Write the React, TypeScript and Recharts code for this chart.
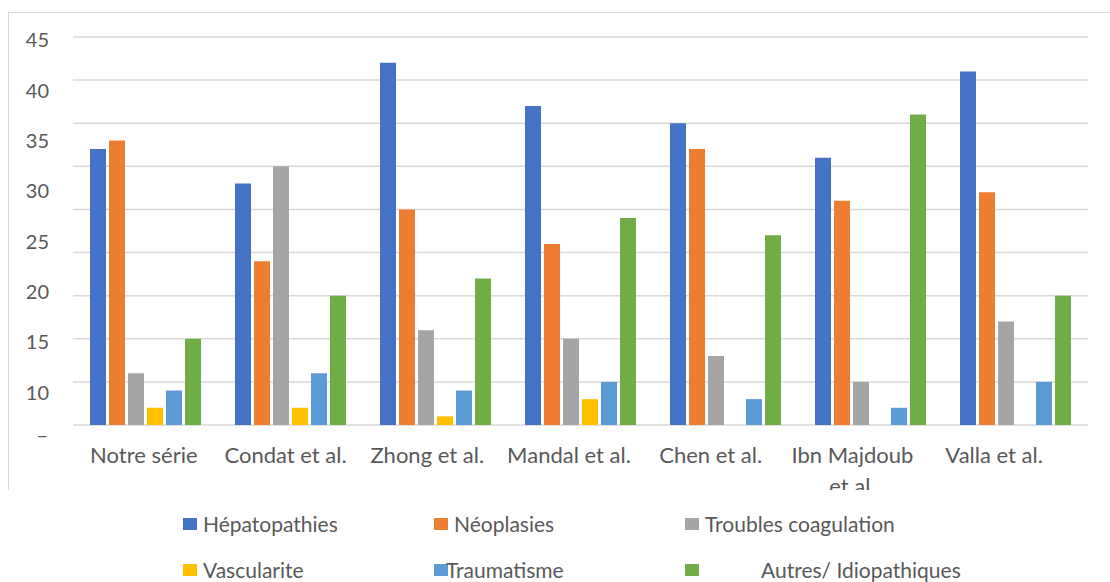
import { BarChart, Bar, XAxis, YAxis, CartesianGrid, Legend } from 'recharts'

const studies = [
  'Notre série',
  'Condat et al.',
  'Zhong et al.',
  'Mandal et al.',
  'Chen et al.',
  'Ibn Majdoub et al.',
  'Valla et al.'
]

const hepatopathies = [32, 28, 42, 37, 35, 31, 41]
const neoplasies = [33, 19, 25, 21, 32, 26, 27]
const troublesCoagulation = [6, 30, 11, 10, 8, 5, 12]
const vascularite = [2, 2, 1, 3, 0, 0, 0]
const traumatisme = [4, 6, 4, 5, 3, 2, 5]
const autres = [10, 15, 17, 24, 22, 36, 15]

// value axis (grid + bars)
const valueTicks = [0, 5, 10, 15, 20, 25, 30, 35, 40, 45]
// printed labels on the left
const labelTicks = [45, 40, 35, 30, 25, 20, 15, 10]

const series = [
  { key: 'hep', name: 'Hépatopathies', color: '#4472C4', values: hepatopathies },
  { key: 'neo', name: 'Néoplasies', color: '#ED7D31', values: neoplasies },
  { key: 'coag', name: 'Troubles coagulation', color: '#A5A5A5', values: troublesCoagulation },
  { key: 'vasc', name: 'Vascularite', color: '#FFC000', values: vascularite },
  { key: 'trau', name: 'Traumatisme', color: '#5B9BD5', values: traumatisme },
  { key: 'autres', name: 'Autres/ Idiopathiques', color: '#70AD47', values: autres }
]

const data = studies.map((name, i) => {
  const row: Record<string, string | number> = { name }
  series.forEach(s => {
    row[s.key] = s.values[i]
  })
  return row
})

const FONT = 'Lato, "Open Sans", sans-serif'
const TEXT_COLOR = '#595959'
const GRID_COLOR = '#D9D9D9'
const TICK_FONT_SIZE = 22

// gap between legend swatch and its text, per slot
const legendTextGap = [6, 6, 6, 6, -2, 62]

let measureCtx: CanvasRenderingContext2D | null = null
function textWidth(s: string) {
  if (!measureCtx) {
    measureCtx = document.createElement('canvas').getContext('2d')
  }
  if (!measureCtx) return s.length * TICK_FONT_SIZE * 0.5
  measureCtx.font = `${TICK_FONT_SIZE}px Lato`
  return measureCtx.measureText(s).width
}

// greedy word wrap for the study names
function wrapLabel(label: string, maxWidth: number) {
  const words = label.split(' ')
  const lines: string[] = []
  let current = ''
  words.forEach(w => {
    const next = current ? `${current} ${w}` : w
    if (current && textWidth(next) > maxWidth) {
      lines.push(current)
      current = w
    } else {
      current = next
    }
  })
  if (current) lines.push(current)
  return lines
}

interface TickProps {
  x?: number
  y?: number
  payload?: { value: string }
}

const StudyTick = ({ x = 0, y = 0, payload }: TickProps) => {
  const lines = wrapLabel(payload?.value ?? '', 138)
  return (
    <text
      x={x}
      y={y}
      textAnchor="middle"
      fill={TEXT_COLOR}
      style={{ fontFamily: FONT, fontSize: TICK_FONT_SIZE }}
    >
      {lines.map((line, i) => (
        <tspan key={i} x={x} dy={i === 0 ? '0.71em' : 31}>
          {line}
        </tspan>
      ))}
    </text>
  )
}

const ChartLegend = () => (
  <div
    style={{
      position: 'relative',
      width: 1110,
      height: 92,
      background: '#fff',
      fontFamily: FONT,
      fontSize: 21,
      color: TEXT_COLOR
    }}
  >
    {series.map((s, i) => (
      <div
        key={s.key}
        style={{
          position: 'absolute',
          left: 183 + (i % 3) * 251,
          top: 21 + Math.floor(i / 3) * 46,
          display: 'flex',
          alignItems: 'center',
          whiteSpace: 'nowrap',
          lineHeight: '26px'
        }}
      >
        <span
          style={{
            display: 'inline-block',
            width: 14,
            height: 12,
            background: s.color,
            marginRight: legendTextGap[i]
          }}
        />
        <span>{s.name}</span>
      </div>
    ))}
  </div>
)

export default function App() {
  return (
    <div
      style={{
        position: 'absolute',
        left: 0,
        top: 0,
        width: 1110,
        height: 582,
        overflow: 'hidden',
        background: '#fff'
      }}
    >
      <div
        style={{
          position: 'absolute',
          left: 8,
          top: 12,
          width: 1200,
          height: 700,
          border: `1.3px solid ${GRID_COLOR}`
        }}
      />
      <div style={{ position: 'absolute', left: 0, top: 0 }}>
        <BarChart
          width={1110}
          height={582}
          data={data}
          margin={{ top: 37, right: 22, left: 0, bottom: 25 }}
          barCategoryGap={17}
          barGap={3}
        >
          <CartesianGrid
            vertical={false}
            stroke={GRID_COLOR}
            strokeWidth={1.5}
            xAxisId="bars"
            yAxisId="main"
          />
          <XAxis xAxisId="bars" dataKey="name" hide height={0} />
          <XAxis
            xAxisId="labels"
            dataKey="name"
            height={40}
            padding={{ left: 0, right: 23 }}
            axisLine={false}
            tickLine={false}
            tickSize={0}
            tickMargin={22}
            interval={0}
            tick={<StudyTick />}
          />
          {/* value axis: only the zero is printed, as a dash */}
          <YAxis
            yAxisId="main"
            domain={[0, 45]}
            ticks={valueTicks}
            width={1}
            axisLine={false}
            tickLine={false}
            tickSize={0}
            tickMargin={25}
            interval={0}
            tickFormatter={(v: number) => (v === 0 ? '–' : '')}
            tick={{ fill: TEXT_COLOR, fontSize: 20, fontFamily: FONT, dy: 10 }}
          />
          <YAxis
            yAxisId="side"
            domain={[6.8, 45.3]}
            allowDataOverflow
            ticks={labelTicks}
            width={72}
            axisLine={false}
            tickLine={false}
            tickSize={0}
            tickMargin={23}
            interval={0}
            tick={{ fill: TEXT_COLOR, fontSize: 20, fontFamily: FONT }}
          />
          {series.map(s => (
            <Bar
              key={s.key}
              xAxisId="bars"
              yAxisId="main"
              dataKey={s.key}
              name={s.name}
              fill={s.color}
              isAnimationActive={false}
            />
          ))}
          <Legend
            verticalAlign="bottom"
            height={92}
            content={<ChartLegend />}
            wrapperStyle={{ top: 490, left: 0, bottom: 'auto', width: 1110 }}
          />
        </BarChart>
      </div>
    </div>
  )
}
